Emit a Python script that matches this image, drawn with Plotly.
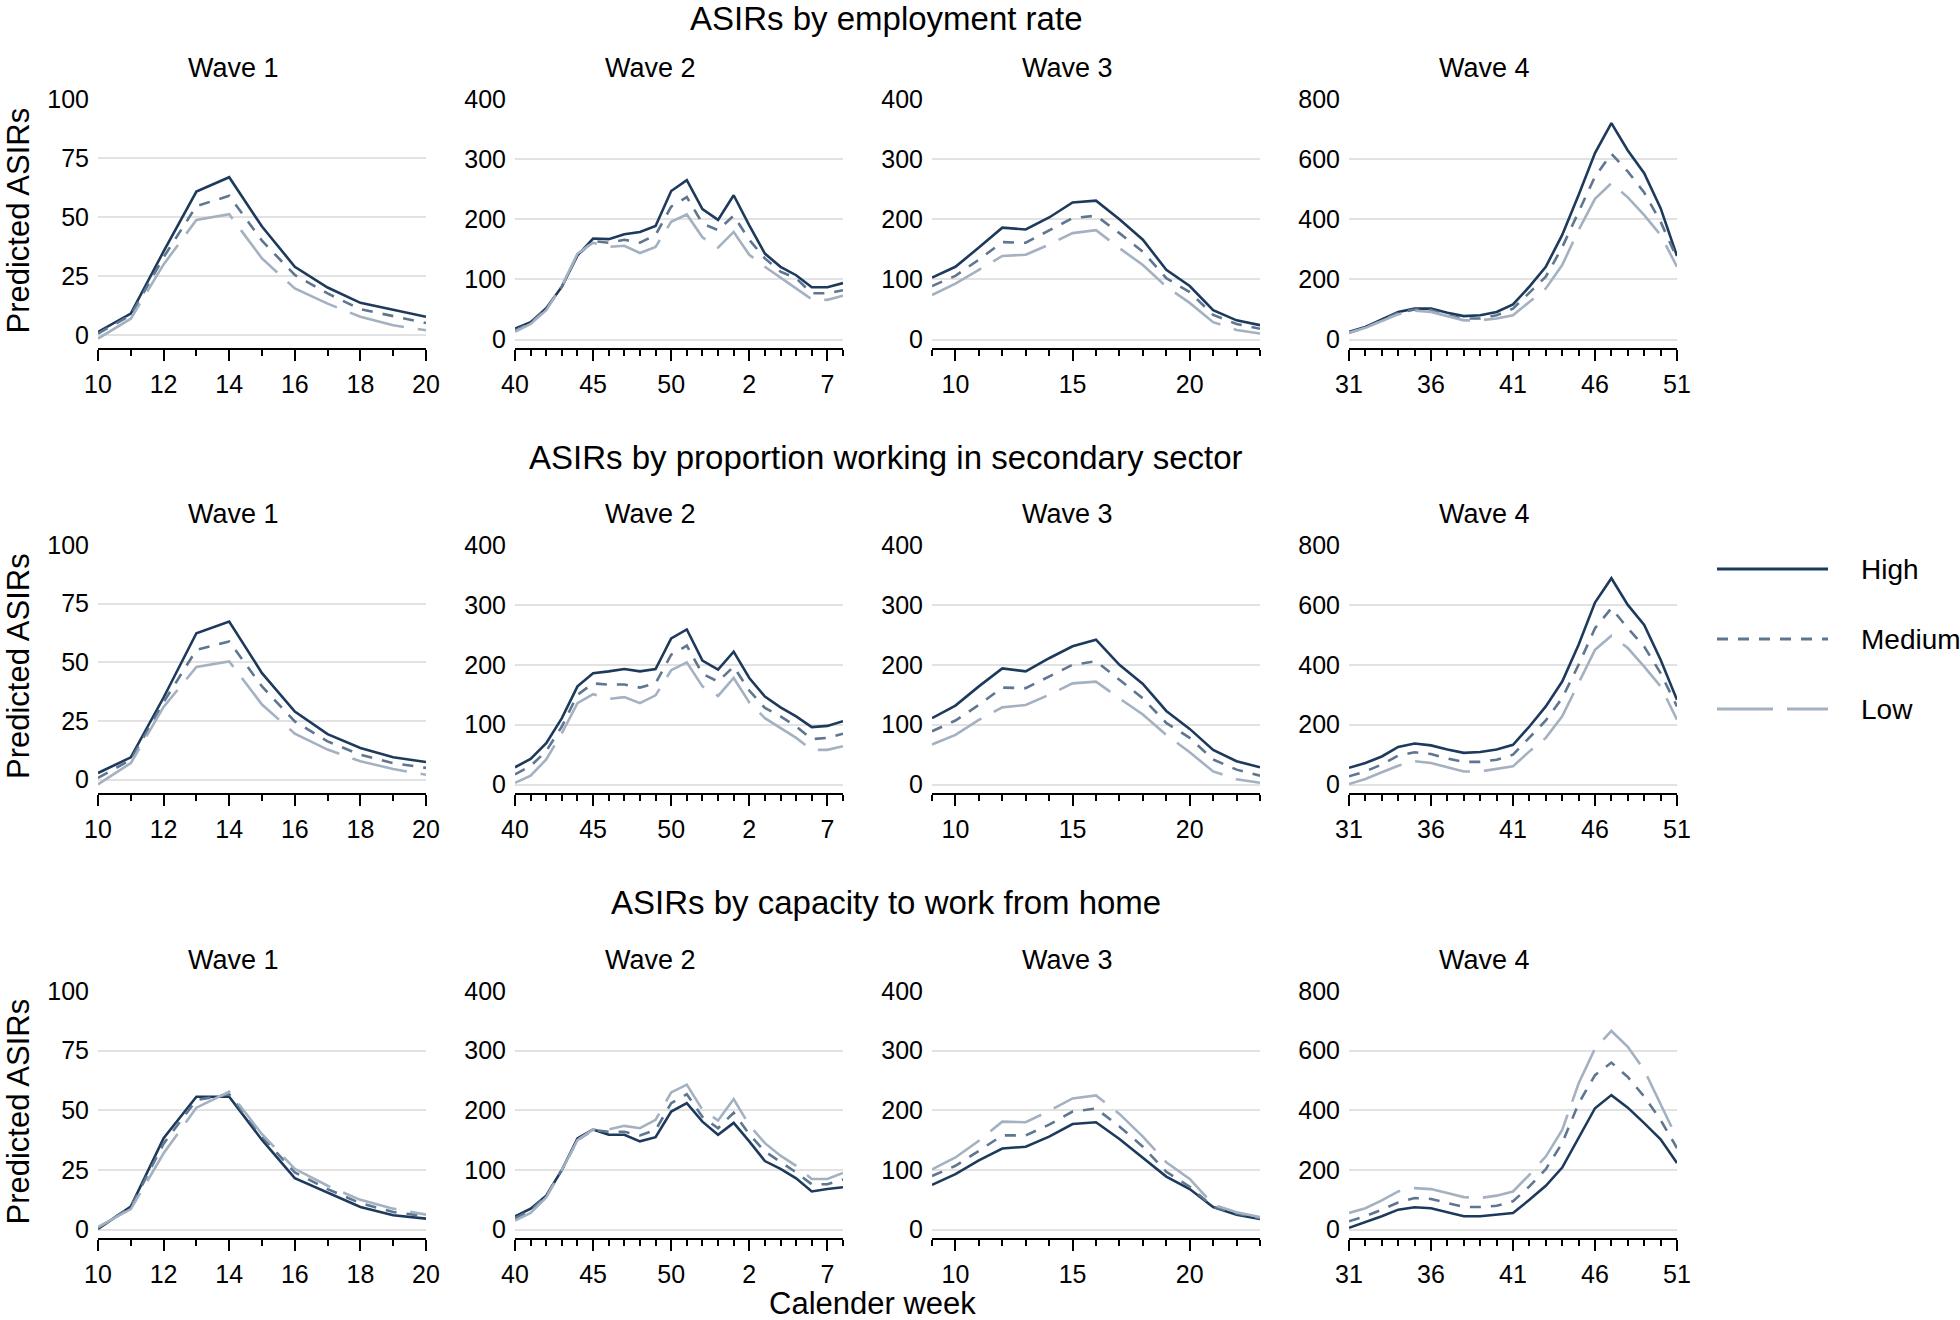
import plotly.graph_objects as go

W, H = 1960, 1320
FONT = "Liberation Sans, Arial, Helvetica, sans-serif"

# ---------------- data ----------------
levels = ["High", "Medium", "Low"]
row_titles = ["ASIRs by employment rate",
              "ASIRs by proportion working in secondary sector",
              "ASIRs by capacity to work from home"]
wave_titles = ["Wave 1", "Wave 2", "Wave 3", "Wave 4"]

weeks_w1 = list(range(10, 21))
weeks_w2 = list(range(40, 54)) + list(range(1, 9))
weeks_w3 = list(range(9, 24))
weeks_w4 = list(range(31, 52))

tick_w1 = [10, 12, 14, 16, 18, 20]
tick_w2 = [40, 45, 50, 2, 7]
tick_w3 = [10, 15, 20]
tick_w4 = [31, 36, 41, 46, 51]

yticks_w1 = [0, 25, 50, 75, 100]
yticks_w23 = [0, 100, 200, 300, 400]
yticks_w4 = [0, 200, 400, 600, 800]

# Row 1: employment rate
emp_w1_high = [1.4, 9.2, 35.5, 60.8, 66.9, 46, 29, 20.2, 13.7, 10.6, 7.8]
emp_w1_med = [0.7, 8.5, 33, 54.7, 59, 40, 25.5, 17.7, 11, 8, 5.2]
emp_w1_low = [-1.4, 7, 30, 48.8, 51.2, 32.5, 19.8, 13.4, 7.8, 4.2, 2.1]
emp_w2_high = [18, 29, 52, 88, 140, 168, 167, 175, 179, 189, 247, 265, 217, 199, 240, 190, 143, 121, 107, 87, 87, 94]
emp_w2_med = [15, 28, 52, 88, 140, 164, 161, 166, 161, 174, 221, 237, 193, 182, 206, 166, 135, 113, 102, 77, 77, 82]
emp_w2_low = [13, 26, 49, 89, 143, 161, 154, 156, 144, 154, 196, 208, 170, 153, 179, 141, 121, 103, 86, 67, 66, 73]
emp_w3_high = [103, 121, 153, 186, 183, 203, 228, 231, 200, 166, 116, 89, 49, 32, 24]
emp_w3_med = [89, 106, 133, 162, 161, 182, 202, 206, 177, 146, 102, 79, 41, 26, 18]
emp_w3_low = [74, 93, 116, 139, 141, 158, 177, 182, 152, 124, 88, 61, 29, 16, 10]
emp_w4_high = [26, 42, 67, 92, 103, 103, 89, 78, 81, 92, 117, 176, 242, 348, 481, 620, 720, 629, 553, 437, 278]
emp_w4_med = [23, 40, 64, 89, 100, 98, 81, 70, 70, 81, 103, 156, 209, 307, 426, 542, 618, 559, 489, 392, 270]
emp_w4_low = [22, 39, 62, 84, 96, 92, 78, 64, 64, 70, 81, 126, 170, 248, 364, 468, 520, 473, 414, 348, 242]

# Row 2: secondary sector
sec_w1_high = [2.8, 9.5, 35, 62.4, 67.4, 45.4, 29, 19.4, 13.5, 9.5, 7.5]
sec_w1_med = [0.7, 8.5, 33, 55.3, 58.9, 39.7, 24.8, 16.3, 10.6, 7, 5]
sec_w1_low = [-2, 7, 31, 48, 50.4, 32, 19.6, 12.8, 7.8, 4.5, 2.1]
sec_w2_high = [29, 43, 69, 111, 164, 186, 189, 193, 189, 193, 244, 259, 207, 192, 222, 178, 147, 129, 114, 96, 98, 106]
sec_w2_med = [17, 31, 56, 97, 150, 169, 167, 167, 162, 169, 217, 232, 185, 172, 197, 157, 128, 114, 97, 76, 78, 85]
sec_w2_low = [3, 15, 42, 86, 136, 151, 143, 146, 136, 149, 191, 204, 164, 148, 178, 137, 111, 94, 78, 58, 58, 64]
sec_w3_high = [111, 132, 164, 194, 189, 211, 231, 242, 200, 168, 123, 93, 58, 39, 29]
sec_w3_med = [89, 107, 133, 162, 161, 181, 200, 206, 175, 144, 103, 78, 42, 25, 15]
sec_w3_low = [67, 83, 108, 129, 133, 150, 169, 172, 144, 117, 83, 54, 22, 9, 3]
sec_w4_high = [56, 72, 94, 126, 137, 131, 117, 106, 109, 117, 133, 194, 261, 344, 467, 608, 689, 600, 533, 417, 283]
sec_w4_med = [28, 44, 67, 97, 108, 102, 87, 76, 76, 83, 100, 156, 214, 289, 400, 522, 589, 522, 461, 372, 261]
sec_w4_low = [2, 19, 41, 63, 78, 72, 58, 44, 44, 52, 61, 111, 156, 228, 339, 450, 497, 456, 394, 328, 217]

# Row 3: work from home
wfh_w1_high = [0.3, 9.7, 38.3, 55.7, 55.7, 37.6, 21.6, 15.6, 9.5, 6, 4.6]
wfh_w1_med = [0.7, 9.5, 36, 54.3, 56.7, 39, 24, 17, 11.1, 7.4, 5.6]
wfh_w1_low = [1.1, 8.6, 32, 51.1, 57.8, 40, 25.5, 18.4, 12.5, 8.8, 6.3]
wfh_w2_high = [22, 35, 57, 100, 153, 168, 159, 159, 148, 155, 198, 212, 181, 159, 179, 148, 115, 102, 86, 64, 68, 71]
wfh_w2_med = [19, 32, 57, 100, 150, 167, 164, 164, 158, 167, 212, 227, 189, 170, 196, 160, 131, 113, 96, 76, 76, 84]
wfh_w2_low = [15, 28, 54, 100, 150, 168, 168, 174, 170, 184, 230, 243, 201, 183, 219, 175, 145, 124, 107, 85, 85, 95]
wfh_w3_high = [75, 93, 116, 136, 139, 156, 177, 180, 152, 121, 89, 68, 38, 25, 18]
wfh_w3_med = [90, 107, 132, 158, 158, 176, 198, 203, 173, 139, 97, 72, 38, 27, 19]
wfh_w3_low = [101, 121, 149, 181, 180, 199, 220, 225, 194, 156, 113, 85, 42, 29, 21]
wfh_w4_high = [6, 25, 45, 67, 75, 72, 58, 45, 45, 50, 56, 100, 147, 208, 306, 407, 451, 409, 357, 303, 223]
wfh_w4_med = [28, 45, 67, 91, 106, 103, 89, 76, 76, 80, 95, 145, 203, 290, 423, 518, 560, 512, 446, 368, 273]
wfh_w4_low = [56, 72, 98, 128, 139, 136, 123, 109, 106, 114, 128, 184, 245, 334, 490, 607, 666, 613, 535, 423, 306]

data = [
    [(emp_w1_high, emp_w1_med, emp_w1_low), (emp_w2_high, emp_w2_med, emp_w2_low),
     (emp_w3_high, emp_w3_med, emp_w3_low), (emp_w4_high, emp_w4_med, emp_w4_low)],
    [(sec_w1_high, sec_w1_med, sec_w1_low), (sec_w2_high, sec_w2_med, sec_w2_low),
     (sec_w3_high, sec_w3_med, sec_w3_low), (sec_w4_high, sec_w4_med, sec_w4_low)],
    [(wfh_w1_high, wfh_w1_med, wfh_w1_low), (wfh_w2_high, wfh_w2_med, wfh_w2_low),
     (wfh_w3_high, wfh_w3_med, wfh_w3_low), (wfh_w4_high, wfh_w4_med, wfh_w4_low)],
]

# ---------------- styling ----------------
colors = {"High": "#1d3a5c", "Medium": "#5e7690", "Low": "#a4b1c1"}
dashes = {"High": "solid", "Medium": "11px,10px", "Low": "56px,14px"}
LW = 2.6

# positions in page pixels
x_px = [(98, 426), (515, 843), (932, 1260), (1349, 1677)]
y_px = [(99, 348), (545, 793), (991, 1238)]
y_bottom = [[-5.4, -14, -14, -28], [-5.7, -14, -14, -28], [-3.5, -14, -14, -28]]
y_top = [100, 400, 400, 800]


def px_x(p):
    return p / W


def px_y(p):
    return 1 - p / H


weeks = [weeks_w1, weeks_w2, weeks_w3, weeks_w4]
ticks = [tick_w1, tick_w2, tick_w3, tick_w4]
yticks = [yticks_w1, yticks_w23, yticks_w23, yticks_w4]

fig = go.Figure()
layout = {}
annotations = []

for r in range(3):
    for c in range(4):
        k = r * 4 + c + 1
        xa = "x" if k == 1 else f"x{k}"
        ya = "y" if k == 1 else f"y{k}"
        wk = weeks[c]
        if c == 1:
            xs = list(range(len(wk)))
            tv = [wk.index(t) for t in ticks[c]]
            xr = [0, len(wk) - 1]
        else:
            xs = wk
            tv = ticks[c]
            xr = [wk[0], wk[-1]]
        for lev, vals in zip(levels, data[r][c]):
            fig.add_trace(go.Scatter(
                x=xs, y=vals, mode="lines", xaxis=xa, yaxis=ya,
                line=dict(color=colors[lev], width=LW, dash=dashes[lev]),
                showlegend=False, name=lev))
        layout["xaxis" if k == 1 else f"xaxis{k}"] = dict(
            domain=[px_x(x_px[c][0]), px_x(x_px[c][1])],
            anchor=ya, range=xr, showgrid=False, zeroline=False,
            automargin=False,
            showline=True, linecolor="black", linewidth=2,
            ticks="outside", ticklen=11, tickwidth=2, tickcolor="black",
            tickvals=tv, ticktext=[str(t) for t in ticks[c]],
            minor=dict(ticks="outside", ticklen=6, tickwidth=2,
                       tickcolor="black", dtick=1, tick0=xr[0], showgrid=False),
            tickfont=dict(size=25, color="black", family=FONT),
            ticklabelstandoff=2,
        )
        layout["yaxis" if k == 1 else f"yaxis{k}"] = dict(
            domain=[px_y(y_px[r][1]), px_y(y_px[r][0])],
            anchor=xa, range=[y_bottom[r][c], y_top[c]],
            automargin=False,
            showgrid=True, gridcolor="#e2e2e2", gridwidth=1.5,
            zeroline=False, showline=False, ticks="",
            tickvals=yticks[c], ticktext=[str(t) for t in yticks[c]],
            tickfont=dict(size=25, color="black", family=FONT),
            ticklabelstandoff=8,
        )
        # wave titles
        cx = (x_px[c][0] + x_px[c][1]) / 2 - 29
        annotations.append(dict(
            x=px_x(cx), y=px_y(y_px[r][0] - 31), xref="paper", yref="paper",
            text=wave_titles[c], showarrow=False, xanchor="center", yanchor="middle",
            font=dict(size=27, color="black", family=FONT)))
    # y title
    cy = (y_px[r][0] + y_px[r][1]) / 2 - 3
    annotations.append(dict(
        x=px_x(18), y=px_y(cy), xref="paper", yref="paper",
        text="Predicted ASIRs", textangle=-90, showarrow=False,
        xanchor="center", yanchor="middle",
        font=dict(size=31, color="black", family=FONT)))

# row titles
row_title_y = [18, 457, 902]
for r in range(3):
    annotations.append(dict(
        x=px_x(886), y=px_y(row_title_y[r]), xref="paper", yref="paper",
        text=row_titles[r], showarrow=False, xanchor="center", yanchor="middle",
        font=dict(size=33, color="black", family=FONT)))

# x title
annotations.append(dict(
    x=px_x(872), y=px_y(1303), xref="paper", yref="paper",
    text="Calender week", showarrow=False, xanchor="center", yanchor="middle",
    font=dict(size=31, color="black", family=FONT)))

# legend (drawn as key samples with labels)
shapes = []
leg_y = [569, 639, 709]
for lev, ly in zip(levels, leg_y):
    shapes.append(dict(type="line", xref="paper", yref="paper",
                       x0=px_x(1717), x1=px_x(1828), y0=px_y(ly), y1=px_y(ly),
                       line=dict(color=colors[lev], width=3.2, dash=dashes[lev])))
    annotations.append(dict(
        x=px_x(1859), y=px_y(ly), xref="paper", yref="paper",
        text=lev, showarrow=False, xanchor="left", yanchor="middle",
        font=dict(size=28, color="black", family=FONT)))

fig.update_layout(
    width=W, height=H,
    margin=dict(l=0, r=0, t=0, b=0),
    paper_bgcolor="white", plot_bgcolor="white",
    font=dict(family=FONT, color="black"),
    annotations=annotations, shapes=shapes,
    showlegend=False,
    **layout,
)

fig.write_html("out.html",
               config={"displayModeBar": False},
               post_script="document.body.style.margin='0px';document.body.style.overflow='hidden';")
